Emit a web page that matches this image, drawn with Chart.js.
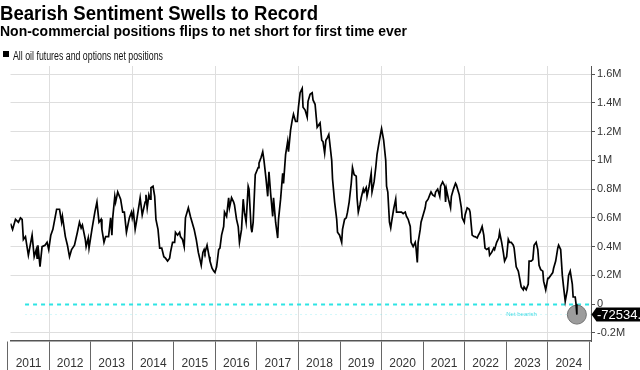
<!DOCTYPE html>
<html>
<head>
<meta charset="utf-8">
<script src="https://cdn.jsdelivr.net/npm/chart.js@4.4.1/dist/chart.umd.min.js"></script>
<style>
  html, body { margin: 0; padding: 0; background: #fff; }
  #wrap { position: relative; width: 640px; height: 370px; overflow: hidden; background: #fff; }
  #c { position: absolute; left: 0; top: 0; }
  .txt { position: absolute; white-space: nowrap; line-height: 1; transform-origin: 0 0; color: #000; }
  #title { left: 0; top: 1.5px; font: bold 20px "Liberation Sans", Arial, sans-serif; }
  #subtitle { left: 0; top: 23px; font: bold 14.5px "Liberation Sans", Arial, sans-serif; }
  #legsw { position: absolute; left: 3px; top: 51px; width: 6px; height: 6px; background: #000; }
  #legtxt { left: 12.5px; top: 48.5px; font: 12px "Liberation Sans Narrow", "Liberation Sans", sans-serif; color: #111; }
</style>
</head>
<body>
<div id="wrap">
  <canvas id="c" width="640" height="370"></canvas>
  <div id="title" class="txt" data-w="318">Bearish Sentiment Swells to Record</div>
  <div id="subtitle" class="txt" data-w="407">Non-commercial positions flips to net short for first time ever</div>
  <div id="legsw"></div>
  <div id="legtxt" class="txt" data-w="150">All oil futures and options net positions</div>
</div>
<script>
// ---- data (decimal years, values in millions of contracts) ----
const years = [
  2011.07,2011.12,2011.19,2011.26,2011.31,2011.35,2011.38,2011.43,2011.50,2011.59,2011.64,2011.69,2011.71,2011.73,2011.78,2011.83,2011.90,2011.95,2011.99,
  2012.04,2012.09,2012.18,2012.25,2012.30,2012.32,2012.39,2012.44,2012.49,2012.54,2012.61,2012.68,2012.73,2012.77,2012.80,2012.87,2012.89,2012.94,2012.96,
  2013.03,2013.10,2013.15,2013.20,2013.25,2013.27,2013.32,2013.36,2013.43,2013.48,2013.51,2013.53,2013.58,2013.60,2013.65,2013.72,2013.77,2013.81,2013.86,2013.93,2013.98,
  2014.00,2014.03,2014.07,2014.10,2014.19,2014.24,2014.31,2014.33,2014.36,2014.40,2014.43,2014.45,2014.50,2014.54,2014.57,2014.62,2014.66,2014.71,2014.76,2014.80,2014.85,2014.90,2014.92,2014.97,
  2015.02,2015.04,2015.09,2015.14,2015.16,2015.21,2015.25,2015.28,2015.35,2015.40,2015.44,2015.49,2015.54,2015.59,2015.63,2015.66,2015.70,2015.73,2015.75,2015.80,2015.85,2015.87,2015.92,2015.96,2015.99,
  2016.03,2016.08,2016.11,2016.15,2016.20,2016.22,2016.27,2016.32,2016.34,2016.39,2016.44,2016.46,2016.51,2016.55,2016.58,2016.63,2016.67,2016.70,2016.74,2016.79,2016.81,2016.86,2016.88,2016.91,2016.96,
  2017.03,2017.05,2017.10,2017.14,2017.17,2017.22,2017.26,2017.29,2017.33,2017.38,2017.40,2017.45,2017.50,2017.52,2017.57,2017.62,2017.64,2017.69,2017.74,2017.76,2017.81,2017.85,2017.88,2017.93,2017.97,
  2018.00,2018.04,2018.09,2018.11,2018.16,2018.21,2018.23,2018.28,2018.33,2018.35,2018.40,2018.45,2018.47,2018.52,2018.56,2018.59,2018.63,2018.66,2018.70,2018.73,2018.75,2018.80,2018.82,2018.87,2018.92,2018.94,2018.99,
  2019.04,2019.06,2019.11,2019.15,2019.18,2019.22,2019.27,2019.30,2019.34,2019.39,2019.41,2019.44,2019.48,2019.51,2019.56,2019.58,2019.63,2019.65,2019.70,2019.75,2019.77,2019.82,2019.86,2019.89,2019.93,2019.98,
  2020.00,2020.05,2020.10,2020.12,2020.15,2020.19,2020.22,2020.24,2020.29,2020.34,2020.36,2020.41,2020.45,2020.48,2020.52,2020.57,2020.60,2020.64,2020.69,2020.71,2020.76,2020.81,2020.83,2020.86,2020.88,2020.93,2020.95,
  2021.00,2021.05,2021.07,2021.12,2021.16,2021.19,2021.23,2021.28,2021.30,2021.35,2021.40,2021.42,2021.47,2021.52,2021.54,2021.56,2021.61,2021.66,2021.68,2021.73,2021.78,2021.80,2021.85,2021.87,2021.92,2021.94,2021.99,
  2022.01,2022.06,2022.11,2022.13,2022.18,2022.23,2022.25,2022.30,2022.33,2022.37,2022.42,2022.46,2022.49,2022.53,2022.58,2022.60,2022.65,2022.70,2022.72,2022.77,2022.82,2022.84,2022.89,2022.93,2022.96,
  2023.01,2023.05,2023.08,2023.12,2023.17,2023.19,2023.24,2023.29,2023.31,2023.36,2023.41,2023.43,2023.48,2023.53,2023.55,2023.60,2023.64,2023.67,2023.72,2023.76,2023.79,2023.83,2023.88,2023.90,2023.95,
  2024.00,2024.02,2024.07,2024.12,2024.14,2024.19,2024.24,2024.26,2024.31,2024.35,2024.38,2024.42,2024.47,2024.50,2024.54,2024.59,2024.61,2024.66,2024.68,2024.70
];
const netPositions = [
  0.56,0.52,0.59,0.57,0.60,0.59,0.45,0.47,0.34,0.48,0.33,0.38,0.32,0.41,0.26,0.40,0.41,0.43,0.38,
  0.48,0.52,0.66,0.66,0.57,0.61,0.47,0.41,0.33,0.38,0.41,0.50,0.57,0.53,0.55,0.45,0.40,0.46,0.39,
  0.52,0.64,0.71,0.57,0.59,0.52,0.43,0.47,0.47,0.60,0.48,0.60,0.75,0.71,0.78,0.73,0.64,0.64,0.50,0.60,0.64,
  0.60,0.64,0.52,0.57,0.74,0.62,0.71,0.76,0.67,0.76,0.73,0.81,0.82,0.75,0.59,0.52,0.39,0.39,0.33,0.32,0.30,0.32,0.36,0.43,
  0.43,0.50,0.48,0.50,0.47,0.45,0.40,0.60,0.67,0.61,0.57,0.52,0.45,0.36,0.31,0.27,0.36,0.38,0.36,0.41,0.33,0.30,0.25,0.23,0.22,
  0.26,0.38,0.39,0.48,0.54,0.64,0.61,0.74,0.67,0.74,0.71,0.69,0.59,0.54,0.43,0.52,0.73,0.64,0.57,0.82,0.80,0.53,0.50,0.57,0.90,
  0.95,0.98,1.02,1.06,1.00,0.87,0.75,0.92,0.77,0.61,0.74,0.57,0.46,0.59,0.73,0.91,0.84,1.04,1.13,1.06,1.21,1.28,1.32,1.27,1.27,
  1.37,1.47,1.50,1.37,1.35,1.30,1.41,1.46,1.47,1.42,1.39,1.23,1.23,1.26,1.14,1.13,1.05,1.14,1.16,1.18,1.13,1.00,0.87,0.71,0.59,0.50,0.48,
  0.43,0.52,0.59,0.60,0.64,0.71,0.84,0.95,0.90,0.89,0.74,0.64,0.69,0.74,0.80,0.78,0.81,0.75,0.82,0.91,0.78,0.85,0.95,1.04,1.11,1.19,
  1.22,1.14,1.00,0.82,0.78,0.57,0.53,0.57,0.66,0.73,0.64,0.64,0.64,0.64,0.63,0.64,0.61,0.59,0.54,0.43,0.40,0.43,0.39,0.29,0.43,0.52,0.57,
  0.62,0.67,0.71,0.73,0.76,0.78,0.76,0.75,0.78,0.80,0.75,0.82,0.85,0.82,0.71,0.80,0.73,0.67,0.75,0.80,0.84,0.83,0.78,0.76,0.67,0.60,0.57,
  0.62,0.67,0.66,0.64,0.48,0.47,0.47,0.46,0.48,0.50,0.54,0.48,0.39,0.38,0.39,0.34,0.36,0.39,0.38,0.43,0.46,0.50,0.43,0.36,0.30,
  0.33,0.45,0.43,0.43,0.41,0.39,0.26,0.23,0.20,0.12,0.10,0.12,0.10,0.14,0.30,0.30,0.31,0.41,0.43,0.38,0.27,0.24,0.23,0.16,0.10,
  0.18,0.18,0.20,0.22,0.25,0.30,0.39,0.41,0.38,0.20,0.12,0.02,0.10,0.20,0.23,0.14,0.05,0.05,0.00,-0.072534
];
const yearTicks = [2011,2012,2013,2014,2015,2016,2017,2018,2019,2020,2021,2022,2023,2024,2025];
const yearLabels = ['2011','2012','2013','2014','2015','2016','2017','2018','2019','2020','2021','2022','2023','2024',''];
const valueTicks = [-0.2,0,0.2,0.4,0.6,0.8,1.0,1.2,1.4,1.6];
const valueTickLabels = ['-0.2M','0','0.2M','0.4M','0.6M','0.8M','1M','1.2M','1.4M','1.6M'];
const seriesName = 'All oil futures and options net positions';
const bandLabel = 'Net bearish';
const xRange = [2011.07, 2025.04];
const yRange = [-0.256, 1.656];
const zeroLineFrom = 2011.42;
const bandValue = -0.072;
const bandLabelAt = 2023.0;

const AX_FONT = '"Liberation Sans", Arial, sans-serif';

// fit header texts to the reference widths
document.querySelectorAll('[data-w]').forEach(el => {
  const w = el.getBoundingClientRect().width;
  el.style.transform = 'scaleX(' + (el.dataset.w / w) + ')';
});

const lineData = years.map((x, i) => ({ x, y: netPositions[i] }));
const lastIdx = years.length - 1;

const overlay = {
  id: 'overlay',
  beforeDatasetsDraw(chart) {
    const { ctx, chartArea: a, scales: { x, y } } = chart;
    const y0 = Math.round(y.getPixelForValue(0)) + 0.5;
    ctx.save();
    const yb = y.getPixelForValue(bandValue);
    ctx.strokeStyle = 'rgba(60,225,230,0.22)';
    ctx.lineWidth = 1;
    ctx.setLineDash([2, 3]);
    ctx.beginPath(); ctx.moveTo(x.getPixelForValue(zeroLineFrom), yb); ctx.lineTo(a.right, yb); ctx.stroke();
    ctx.setLineDash([]);
    ctx.fillStyle = 'rgba(40,215,225,0.85)';
    ctx.font = '6px ' + AX_FONT;
    ctx.textBaseline = 'middle';
    ctx.fillText(bandLabel, x.getPixelForValue(bandLabelAt), yb);
    ctx.strokeStyle = '#2ee4e4';
    ctx.lineWidth = 2;
    ctx.setLineDash([4, 4]);
    ctx.beginPath(); ctx.moveTo(x.getPixelForValue(zeroLineFrom), y0); ctx.lineTo(a.right, y0); ctx.stroke();
    ctx.restore();
  },
  afterDraw(chart) {
    const { ctx, scales: { y } } = chart;
    const v = netPositions[lastIdx];
    const cy = y.getPixelForValue(v);
    const x0 = y.left + 0.5;
    ctx.save();
    ctx.fillStyle = '#000';
    ctx.beginPath();
    ctx.moveTo(x0, cy);
    ctx.lineTo(x0 + 5, cy - 7);
    ctx.lineTo(660, cy - 7);
    ctx.lineTo(660, cy + 7);
    ctx.lineTo(x0 + 5, cy + 7);
    ctx.closePath();
    ctx.fill();
    ctx.fillStyle = '#fff';
    ctx.font = '13px ' + AX_FONT;
    ctx.textBaseline = 'middle';
    ctx.textAlign = 'left';
    ctx.fillText((v * 1e6).toFixed(2), x0 + 5.5, cy + 0.5);
    ctx.restore();
  }
};

new Chart(document.getElementById('c'), {
  type: 'line',
  data: {
    datasets: [
      {
        label: seriesName,
        data: lineData,
        borderColor: '#000',
        borderWidth: 1.7,
        pointRadius: 0,
        tension: 0,
        fill: false,
        order: 0
      },
      {
        label: 'latest',
        data: [lineData[lastIdx]],
        showLine: false,
        pointRadius: 9.5,
        pointBackgroundColor: '#9c9c9c',
        pointBorderColor: '#707070',
        pointBorderWidth: 1,
        order: 1
      }
    ]
  },
  options: {
    responsive: false,
    animation: false,
    devicePixelRatio: 1,
    layout: { padding: { top: 66, left: 0, right: 0, bottom: 0 } },
    plugins: { legend: { display: false }, tooltip: { enabled: false }, title: { display: false } },
    scales: {
      x: {
        type: 'linear',
        position: 'bottom',
        min: xRange[0],
        max: xRange[1],
        afterBuildTicks: s => { s.ticks = yearTicks.map(v => ({ value: v })); },
        afterFit: s => { s.height = 29; },
        grid: {
          color: c => (c.tick && c.tick.value % 2 === 0 && c.tick.value > xRange[0] && c.tick.value < 2025) ? '#dedede' : 'rgba(0,0,0,0)',
          tickColor: '#666',
          tickLength: 29,
          lineWidth: 1
        },
        border: { color: '#555', width: 1.5 },
        ticks: {
          autoSkip: false,
          maxRotation: 0,
          minRotation: 0,
          labelOffset: 21,
          padding: -14,
          color: '#333',
          font: { family: AX_FONT, size: 12 },
          callback: (v) => yearLabels[yearTicks.indexOf(v)] ?? ''
        }
      },
      y: {
        type: 'linear',
        position: 'right',
        min: yRange[0],
        max: yRange[1],
        afterBuildTicks: s => { s.ticks = valueTicks.map(v => ({ value: v })); },
        afterFit: s => { s.width = 49; },
        grid: {
          color: c => (c.tick && c.tick.value === 0) ? 'rgba(0,0,0,0)' : '#dedede',
          tickColor: '#555',
          tickLength: 4,
          lineWidth: 1
        },
        border: { color: '#555', width: 1 },
        ticks: {
          padding: 2,
          color: '#333',
          font: { family: AX_FONT, size: 11 },
          callback: (v) => valueTickLabels[valueTicks.findIndex(t => Math.abs(t - v) < 1e-9)] ?? ''
        }
      }
    }
  },
  plugins: [overlay]
});
</script>
</body>
</html>
